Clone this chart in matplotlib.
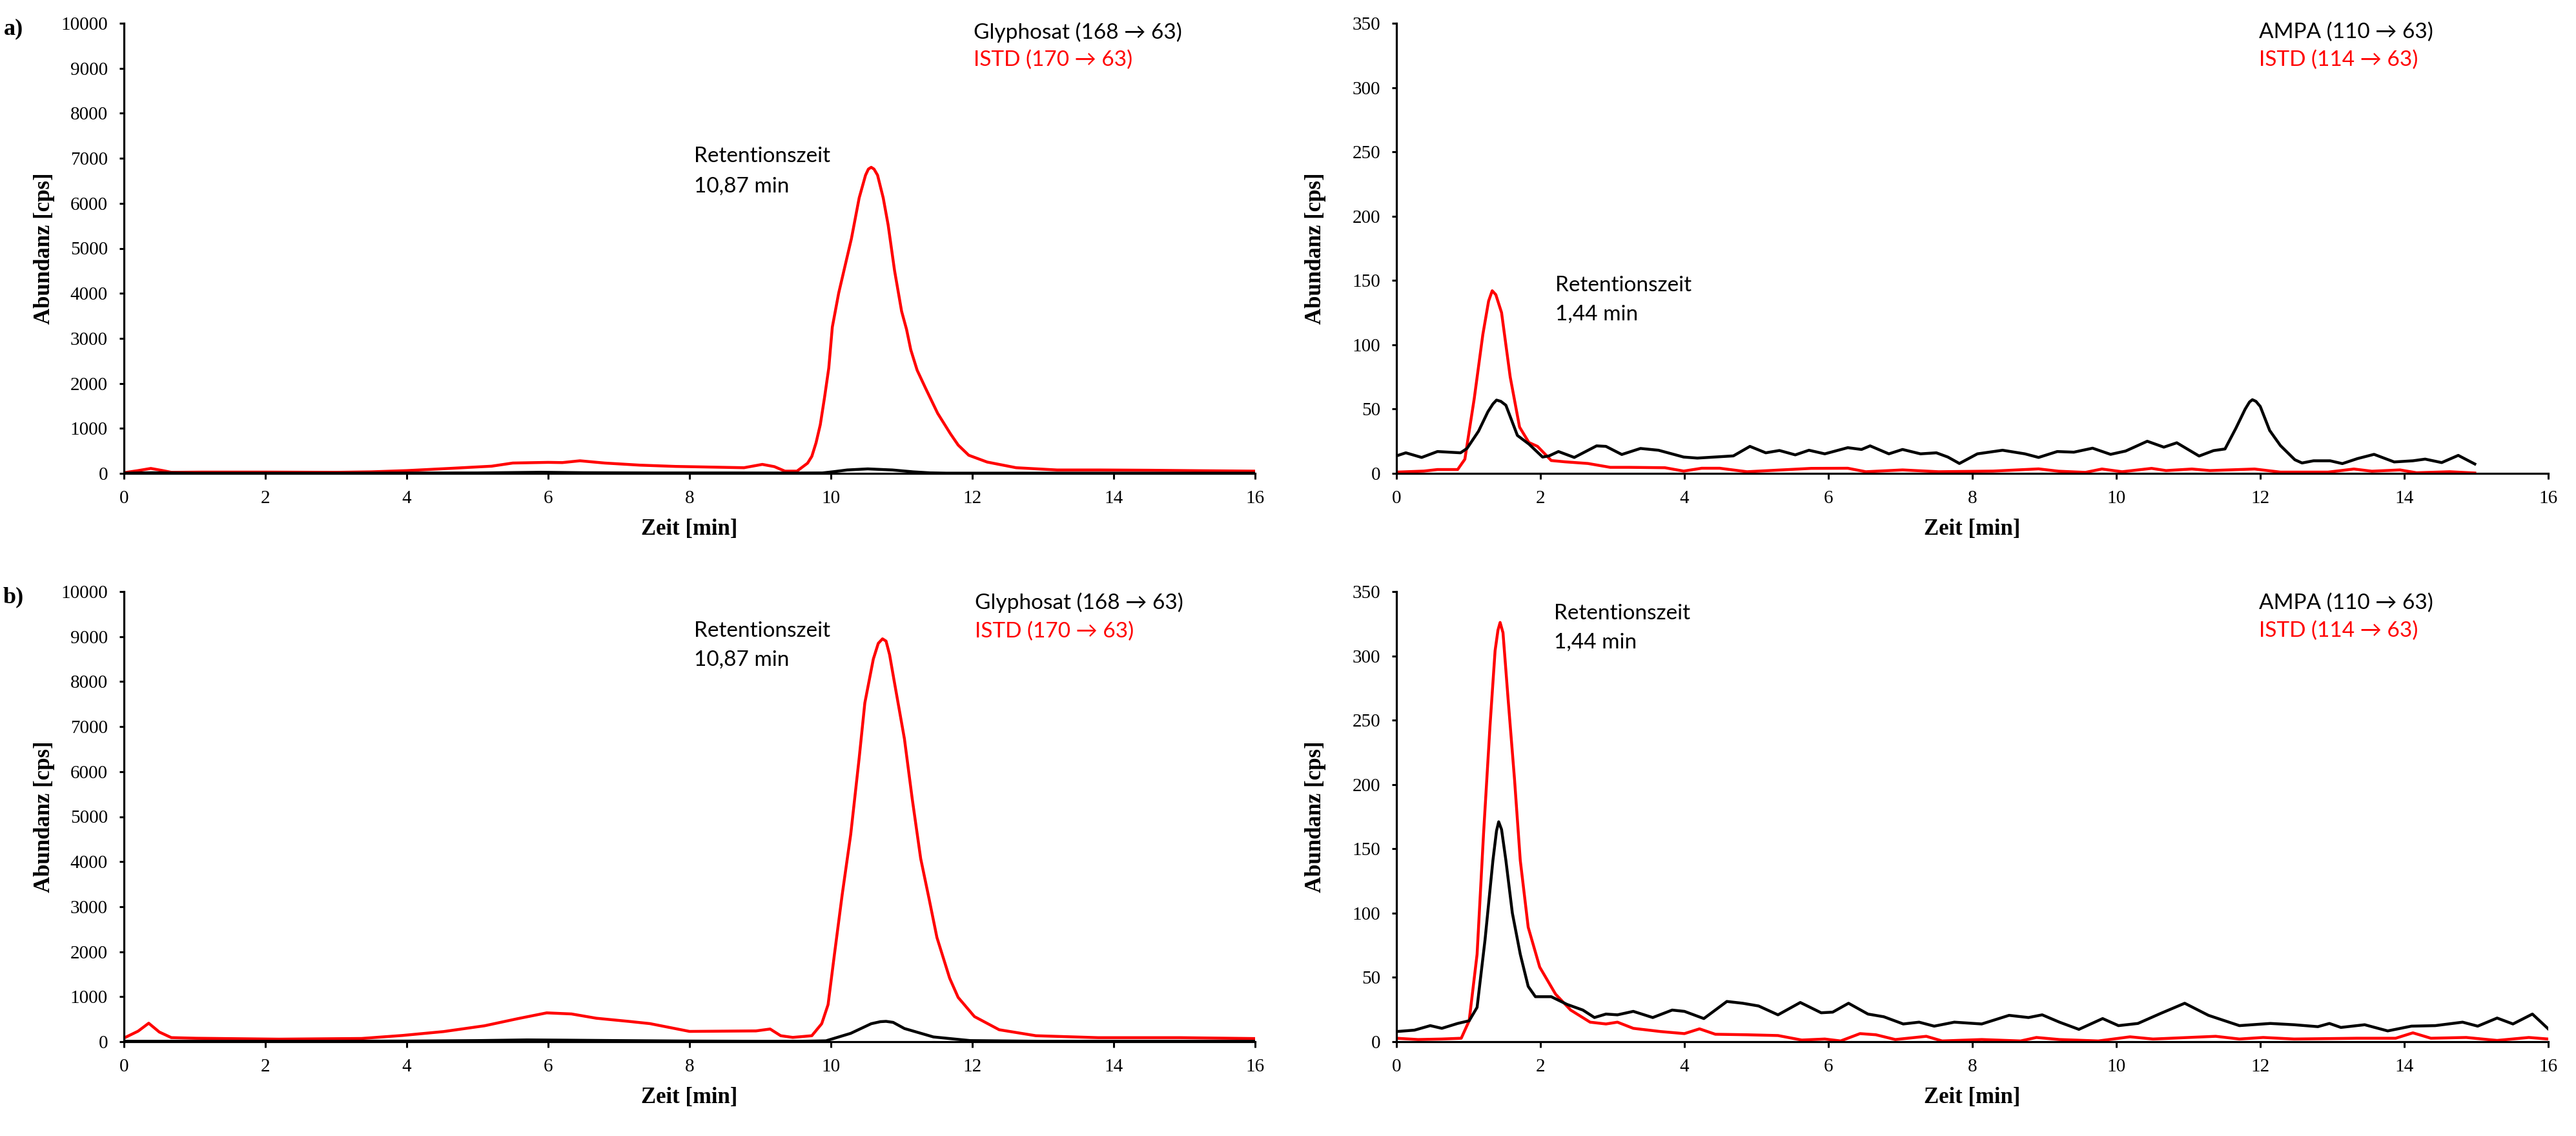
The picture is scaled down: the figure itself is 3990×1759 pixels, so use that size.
import matplotlib.pyplot as plt

# ---------------- data ----------------
# a) Glyphosat / ISTD 170->63
t_a_istd = [0, 0.2, 0.38, 0.55, 0.67, 1.1, 2.0, 3.0, 3.5, 4.0, 4.6, 5.2, 5.5, 6.0, 6.2, 6.45,
            6.8, 7.3, 7.8, 8.3, 8.77, 9.03, 9.2, 9.35, 9.52, 9.67, 9.73, 9.79, 9.85, 9.91, 9.97,
            10.02, 10.11, 10.2, 10.29, 10.40, 10.49, 10.53, 10.57, 10.61, 10.66, 10.74, 10.81,
            10.9, 11.0, 11.07, 11.13, 11.22, 11.34, 11.51, 11.69, 11.80, 11.95, 12.21, 12.62,
            13.2, 13.8, 14.5, 15.2, 16.0]
v_a_istd = [15, 62, 110, 62, 24, 29, 29, 24, 35, 62, 110, 160, 230, 245, 240, 280,
            230, 183, 155, 140, 126, 200, 150, 50, 50, 227, 378, 680, 1083, 1688, 2342,
            3250, 4005, 4610, 5214, 6121, 6625, 6760, 6800, 6760, 6625, 6121, 5516,
            4509, 3602, 3199, 2746, 2292, 1889, 1335, 882, 630, 403, 252, 126,
            76, 76, 70, 60, 50]
t_a_gly = [0, 0.4, 1, 2, 3, 4, 5, 5.9, 6.5, 7.5, 8.5, 9.5, 9.88, 10.05, 10.23, 10.52,
           10.87, 11.16, 11.4, 11.63, 12.0, 13, 14, 15, 16]
v_a_gly = [5, 15, 5, 5, 5, 8, 10, 25, 15, 10, 10, 8, 10, 40, 76, 100,
           76, 35, 12, 5, 5, 5, 5, 5, 5]

# a) AMPA / ISTD 114->63
t_a_ampa = [0, 0.13, 0.35, 0.57, 0.89, 0.98, 1.14, 1.27, 1.34, 1.39, 1.45, 1.52, 1.68, 1.84,
            2.03, 2.12, 2.25, 2.47, 2.78, 2.91, 3.13, 3.39, 3.64, 3.99, 4.18, 4.68, 4.91,
            5.13, 5.32, 5.54, 5.73, 5.95, 6.27, 6.46, 6.58, 6.84, 7.03, 7.28, 7.5, 7.66,
            7.82, 8.07, 8.42, 8.73, 8.92, 9.18, 9.41, 9.67, 9.92, 10.13, 10.43, 10.66,
            10.84, 11.15, 11.35, 11.51, 11.66, 11.79, 11.85, 11.89, 11.94, 12.0, 12.13,
            12.28, 12.48, 12.58, 12.74, 12.97, 13.14, 13.35, 13.58, 13.86, 14.12, 14.29,
            14.52, 14.75, 14.98]
v_a_ampa = [13.6, 16, 12.4, 17, 16, 19.4, 32.8, 47.9, 54, 57, 56, 53, 29.5, 22.8,
            12.7, 13.6, 17, 12.4, 21.4, 21, 14.7, 19.4, 18, 12.7, 11.9, 13.6, 21,
            16, 17.8, 14.4, 18, 15.2, 20, 18.6, 21.4, 15.2, 18.6, 15.2, 16, 12.7,
            7.7, 15.2, 18, 15.2, 12.4, 17, 16.5, 19.6, 14.8, 17.4, 25, 20.4,
            23.8, 13.5, 17.7, 19, 35, 50, 55.5, 57.3, 56, 52, 33.4,
            21.6, 10.6, 8.1, 9.8, 9.8, 7.6, 11.5, 14.8, 8.9, 9.8, 11.1,
            8.4, 14, 7.3]
t_a_istd2 = [0, 0.38, 0.57, 0.85, 0.95, 1.08, 1.2, 1.28, 1.33, 1.38, 1.46, 1.58, 1.71, 1.84,
             1.96, 2.15, 2.34, 2.66, 2.97, 3.23, 3.73, 3.99, 4.24, 4.49, 4.87, 5.76, 6.27,
             6.52, 7.03, 7.53, 8.29, 8.92, 9.2, 9.57, 9.8, 10.08, 10.49, 10.69, 11.05, 11.3,
             11.92, 12.28, 12.94, 13.3, 13.55, 13.94, 14.17, 14.63, 14.98]
v_a_istd2 = [1, 1.8, 3, 3, 11, 58, 108, 134, 142, 139, 125, 75, 36, 24,
             21, 10, 9, 7.7, 4.7, 4.7, 4.4, 1.8, 4, 4, 1.3, 3.9, 4,
             1.3, 2.7, 1.3, 1.8, 3.5, 1.7, 0.8, 3.4, 1.3, 3.9, 2.2, 3.4, 2.2,
             3.4, 1, 1, 3.4, 1.7, 2.7, 0.5, 1.3, 0.3]

# b) Glyphosat / ISTD 170->63
t_b_istd = [0, 0.2, 0.35, 0.5, 0.67, 1.02, 2.19, 3.36, 3.94, 4.52, 5.1, 5.57, 5.98, 6.33,
            6.68, 7.15, 7.44, 8.0, 8.94, 9.14, 9.29, 9.46, 9.73, 9.87, 9.96, 10.05, 10.16,
            10.28, 10.40, 10.48, 10.6, 10.67, 10.73, 10.78, 10.83, 10.89, 11.04, 11.15,
            11.27, 11.39, 11.5, 11.68, 11.80, 12.03, 12.38, 12.9, 13.78, 14.94, 16.0]
v_b_istd = [81, 234, 411, 215, 91, 77, 57, 72, 139, 225, 354, 512, 641, 617,
            522, 450, 402, 229, 240, 282, 133, 96, 133, 400, 824, 1941, 3271,
            4601, 6303, 7527, 8500, 8850, 8950, 8900, 8600, 8059, 6729, 5399,
            4069, 3165, 2314, 1410, 984, 559, 266, 133, 90, 90, 70]
t_b_gly = [0, 1, 2, 3, 4, 5, 5.7, 6.2, 7, 8, 9, 9.6, 9.93, 10.28, 10.57, 10.7, 10.78, 10.88,
           11.04, 11.45, 11.97, 13, 14, 15, 16]
v_b_gly = [10, 10, 10, 10, 15, 25, 40, 35, 25, 15, 10, 10, 20, 186, 400, 445, 452, 430,
           293, 106, 25, 10, 10, 10, 10]

# b) AMPA / ISTD 114->63
t_b_ampa = [0, 0.25, 0.47, 0.63, 0.85, 1.01, 1.12, 1.23, 1.34, 1.39, 1.42, 1.46, 1.52, 1.61,
            1.72, 1.83, 1.93, 2.15, 2.37, 2.59, 2.75, 2.91, 3.07, 3.29, 3.56, 3.83, 4.0,
            4.27, 4.59, 4.81, 5.03, 5.30, 5.61, 5.9, 6.06, 6.28, 6.55, 6.77, 7.04, 7.26,
            7.47, 7.75, 8.13, 8.51, 8.78, 8.97, 9.21, 9.48, 9.81, 10.03, 10.30, 10.62,
            10.95, 11.28, 11.71, 12.14, 12.47, 12.80, 12.96, 13.12, 13.45, 13.77, 14.1,
            14.43, 14.81, 15.02, 15.29, 15.51, 15.78, 16.0]
v_b_ampa = [7.9, 9, 12.5, 10.4, 14.2, 16.3, 26.7, 79, 141, 164, 171, 165, 141, 100,
            68, 43, 35, 35, 29, 24.6, 18.8, 21.5, 20.9, 23.6, 18.8, 24.6, 23.6,
            18, 31.3, 29.9, 27.8, 20.9, 30.5, 22.5, 23, 29.9, 21.5, 19.4, 13.8, 15.2,
            12.1, 15.2, 13.8, 20.5, 18.8, 20.9, 15.2, 9.6, 18, 12.5, 14.2, 22.1,
            29.9, 20.5, 12.5, 14.2, 13.2, 11.7, 14.2, 11.1, 13.2, 8.4, 12.1,
            12.5, 15.2, 12.1, 18.4, 13.8, 21.5, 10]
t_b_istd2 = [0, 0.3, 0.63, 0.9, 1.01, 1.12, 1.21, 1.3, 1.37, 1.41, 1.44, 1.48, 1.55, 1.64,
             1.72, 1.83, 1.99, 2.21, 2.42, 2.69, 2.91, 3.07, 3.29, 3.67, 4.0, 4.21, 4.43,
             4.87, 5.3, 5.63, 5.95, 6.17, 6.44, 6.66, 6.93, 7.36, 7.58, 8.13, 8.67, 8.89,
             9.21, 9.75, 10.19, 10.51, 11.38, 11.71, 12.04, 12.47, 13.34, 13.88, 14.12,
             14.37, 14.86, 15.29, 15.73, 16.0]
v_b_istd2 = [2.7, 1.7, 2.1, 2.7, 16.3, 68, 162, 246, 304, 320, 326, 318, 267, 204,
             141, 89, 58, 37, 24.6, 15.2, 13.8, 15.2, 10.4, 7.9, 6.3, 10, 5.8,
             5.4, 4.8, 1.3, 2.1, 0.6, 6.3, 5.4, 1.7, 4.2, 0.6, 1.7, 0.6, 3.3,
             1.7, 0.6, 3.8, 2.1, 4.2, 2.1, 3.3, 2.1, 2.7, 2.7, 6.9,
             2.7, 3.3, 1, 3.3, 2.1]

x_ticks = list(range(0, 17, 2))
gly_ticks = list(range(0, 10001, 1000))
ampa_ticks = list(range(0, 351, 50))

# ---------------- figure ----------------
W, H = 3991, 1759
fig = plt.figure(figsize=(W / 100, H / 100), dpi=100)

serif = 'Liberation Serif'
sans = ['Lato', 'DejaVu Sans']
RED = '#ff0000'


def box(x0, x1, ytop, ybot):
    return [x0 / W, 1 - ybot / H, (x1 - x0) / W, (ybot - ytop) / H]


panels = [
    (box(192, 1944, 36, 733), t_a_gly, v_a_gly, t_a_istd, v_a_istd, 10000, gly_ticks,
     'Glyphosat (168 \u2192 63)', 'ISTD (170 \u2192 63)', (0.751, 0.980, 0.919),
     '10,87 min', (0.504, 0.704, 0.638)),
    (box(2163, 3947, 36, 733), t_a_ampa, v_a_ampa, t_a_istd2, v_a_istd2, 350, ampa_ticks,
     'AMPA (110 \u2192 63)', 'ISTD (114 \u2192 63)', (0.749, 0.980, 0.919),
     '1,44 min', (0.138, 0.418, 0.353)),
    (box(192, 1944, 916, 1613), t_b_gly, v_b_gly, t_b_istd, v_b_istd, 10000, gly_ticks,
     'Glyphosat (168 \u2192 63)', 'ISTD (170 \u2192 63)', (0.752, 0.976, 0.911),
     '10,87 min', (0.504, 0.912, 0.848)),
    (box(2163, 3947, 916, 1613), t_b_ampa, v_b_ampa, t_b_istd2, v_b_istd2, 350, ampa_ticks,
     'AMPA (110 \u2192 63)', 'ISTD (114 \u2192 63)', (0.749, 0.974, 0.912),
     '1,44 min', (0.137, 0.951, 0.887)),
]

for rect, ta, va, tr, vr, ymax, yt, lab1, lab2, lpos, rt, rpos in panels:
    ax = fig.add_axes(rect)
    ax.plot(ta, va, color='black', lw=3.2, solid_joinstyle='round', zorder=3)
    ax.plot(tr, vr, color=RED, lw=3.2, solid_joinstyle='round', zorder=2)
    ax.set_xlim(0, 16)
    ax.set_ylim(0, ymax)
    ax.set_xticks(x_ticks)
    ax.set_yticks(yt)
    for s in ['top', 'right']:
        ax.spines[s].set_visible(False)
    for s in ['left', 'bottom']:
        ax.spines[s].set_linewidth(2.3)
    ax.tick_params(axis='y', direction='out', length=5, width=2.2, pad=13)
    ax.tick_params(axis='x', direction='out', length=6.5, width=2.2, pad=12)
    for lbl in ax.get_xticklabels() + ax.get_yticklabels():
        lbl.set_fontfamily(serif)
        lbl.set_fontsize(21)
    ax.set_xlabel('Zeit [min]', fontfamily=serif, fontweight='bold', fontsize=25)
    ax.xaxis.set_label_coords(0.5, -0.10)
    ax.set_ylabel('Abundanz [cps]', fontfamily=serif, fontweight='bold', fontsize=25)
    ax.yaxis.set_label_coords(-0.061, 0.5)

    ax.text(lpos[0], lpos[1], lab1, transform=ax.transAxes, family=sans, fontsize=24,
            color='black', ha='left', va='center')
    ax.text(lpos[0], lpos[2], lab2, transform=ax.transAxes, family=sans, fontsize=24,
            color=RED, ha='left', va='center')
    ax.text(rpos[0], rpos[1], 'Retentionszeit', transform=ax.transAxes, family=sans,
            fontsize=24, ha='left', va='center')
    ax.text(rpos[0], rpos[2], rt, transform=ax.transAxes, family=sans,
            fontsize=24, ha='left', va='center')

fig.text(21 / W, 1 - 45 / H, 'a)', fontfamily=serif, fontweight='bold', fontsize=26,
         ha='center', va='center')
fig.text(21 / W, 1 - 925 / H, 'b)', fontfamily=serif, fontweight='bold', fontsize=26,
         ha='center', va='center')

fig.savefig('out.png', dpi=100, facecolor='white')
